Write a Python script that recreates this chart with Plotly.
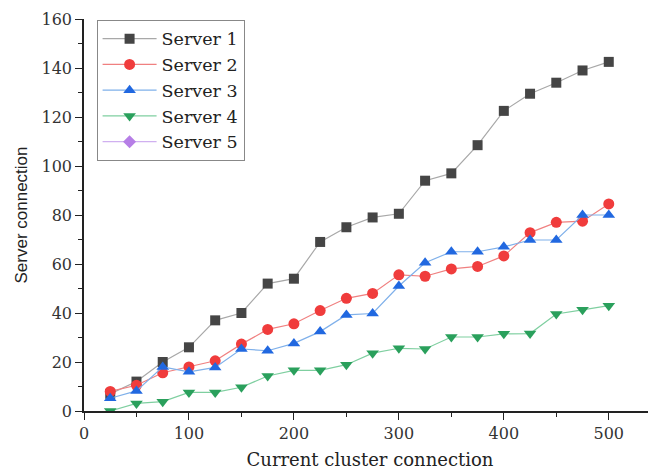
import plotly.graph_objects as go

x_vals = [25, 50, 75, 100, 125, 150, 175, 200, 225, 250, 275, 300, 325, 350, 375, 400, 425, 450, 475, 500]
server1 = [7, 12, 20, 26, 37, 40, 52, 54, 69, 75, 79, 80.5, 94, 97, 108.5, 122.5, 129.5, 134, 139, 142.5]
server2 = [8, 10.5, 15.6, 18, 20.5, 27.3, 33.3, 35.6, 41, 46, 48, 55.6, 55, 58, 59, 63.3, 72.8, 77, 77.5, 84.5]
server3 = [5.2, 8.2, 18, 16, 17.8, 25.3, 24.6, 27.6, 32.4, 39.2, 39.8, 51, 60.5, 65, 65, 67, 69.8, 69.8, 80, 80]
server4 = [0, 3.1, 3.8, 7.6, 7.6, 9.7, 14.3, 16.6, 16.6, 18.9, 23.6, 25.6, 25.3, 30.2, 30.2, 31.5, 31.6, 39.6, 41.3, 43]
server5 = []

names = ["Server 1", "Server 2", "Server 3", "Server 4", "Server 5"]
series = [server1, server2, server3, server4, server5]
marker_colors = ["#454545", "#f03c3c", "#2168e0", "#2aa05c", "#b67ee6"]
line_colors = ["#a8a8a8", "#f08080", "#7fb0ea", "#7fcfa0", "#d0b0f0"]
symbols = ["square", "circle", "triangle-up", "triangle-down", "diamond"]
sizes = [10, 11, 11, 11, 10]

fig = go.Figure()
for name, ys, mc, lc, sym, sz in zip(names, series, marker_colors, line_colors, symbols, sizes):
    if ys:
        xs = x_vals
    else:
        xs, ys = [None], [None]
    fig.add_trace(go.Scatter(
        x=xs, y=ys, name=name, mode="lines+markers",
        line=dict(color=lc, width=1.2),
        marker=dict(symbol=sym, color=mc, size=sz, line=dict(width=0)),
    ))

serif = "DejaVu Serif, serif"
sans = "Liberation Sans, Arial, sans-serif"
fig.update_layout(
    width=648, height=462,
    margin=dict(l=76, r=0, t=11, b=59),
    paper_bgcolor="white", plot_bgcolor="white",
    font=dict(family=serif, size=16, color="#333333"),
    showlegend=True,
    legend=dict(
        x=0.022, y=0.998, xanchor="left", yanchor="top",
        bgcolor="white", bordercolor="#888888", borderwidth=1,
        font=dict(family=serif, size=17.5, color="#222222"),
        tracegroupgap=0, itemwidth=54,
    ),
    xaxis=dict(
        range=[0, 545], showgrid=False, zeroline=False,
        showline=True, linecolor="#222222", linewidth=1.5,
        ticks="outside", ticklen=7, tickwidth=1.2, tickcolor="#222222",
        tickmode="array", tickvals=[0, 100, 200, 300, 400, 500],
        minor=dict(ticks="outside", ticklen=4, tickcolor="#222222", tickvals=[50, 150, 250, 350, 450]),
        title=dict(text="Current cluster connection", font=dict(family=serif, size=18, color="#222222"), standoff=14),
        tickfont=dict(family=serif, size=16, color="#333333"),
    ),
    yaxis=dict(
        range=[0, 160], showgrid=False, zeroline=False,
        showline=True, linecolor="#222222", linewidth=1.5,
        ticks="outside", ticklen=7, tickwidth=1.2, tickcolor="#222222",
        tickmode="array", tickvals=[0, 20, 40, 60, 80, 100, 120, 140, 160],
        minor=dict(ticks="outside", ticklen=4, tickcolor="#222222", tickvals=[10, 30, 50, 70, 90, 110, 130, 150]),
        title=dict(text="Server connection", font=dict(family=sans, size=17, color="#222222"), standoff=10),
        tickfont=dict(family=serif, size=16, color="#333333"),
    ),
)

fig.write_html("out.html")
